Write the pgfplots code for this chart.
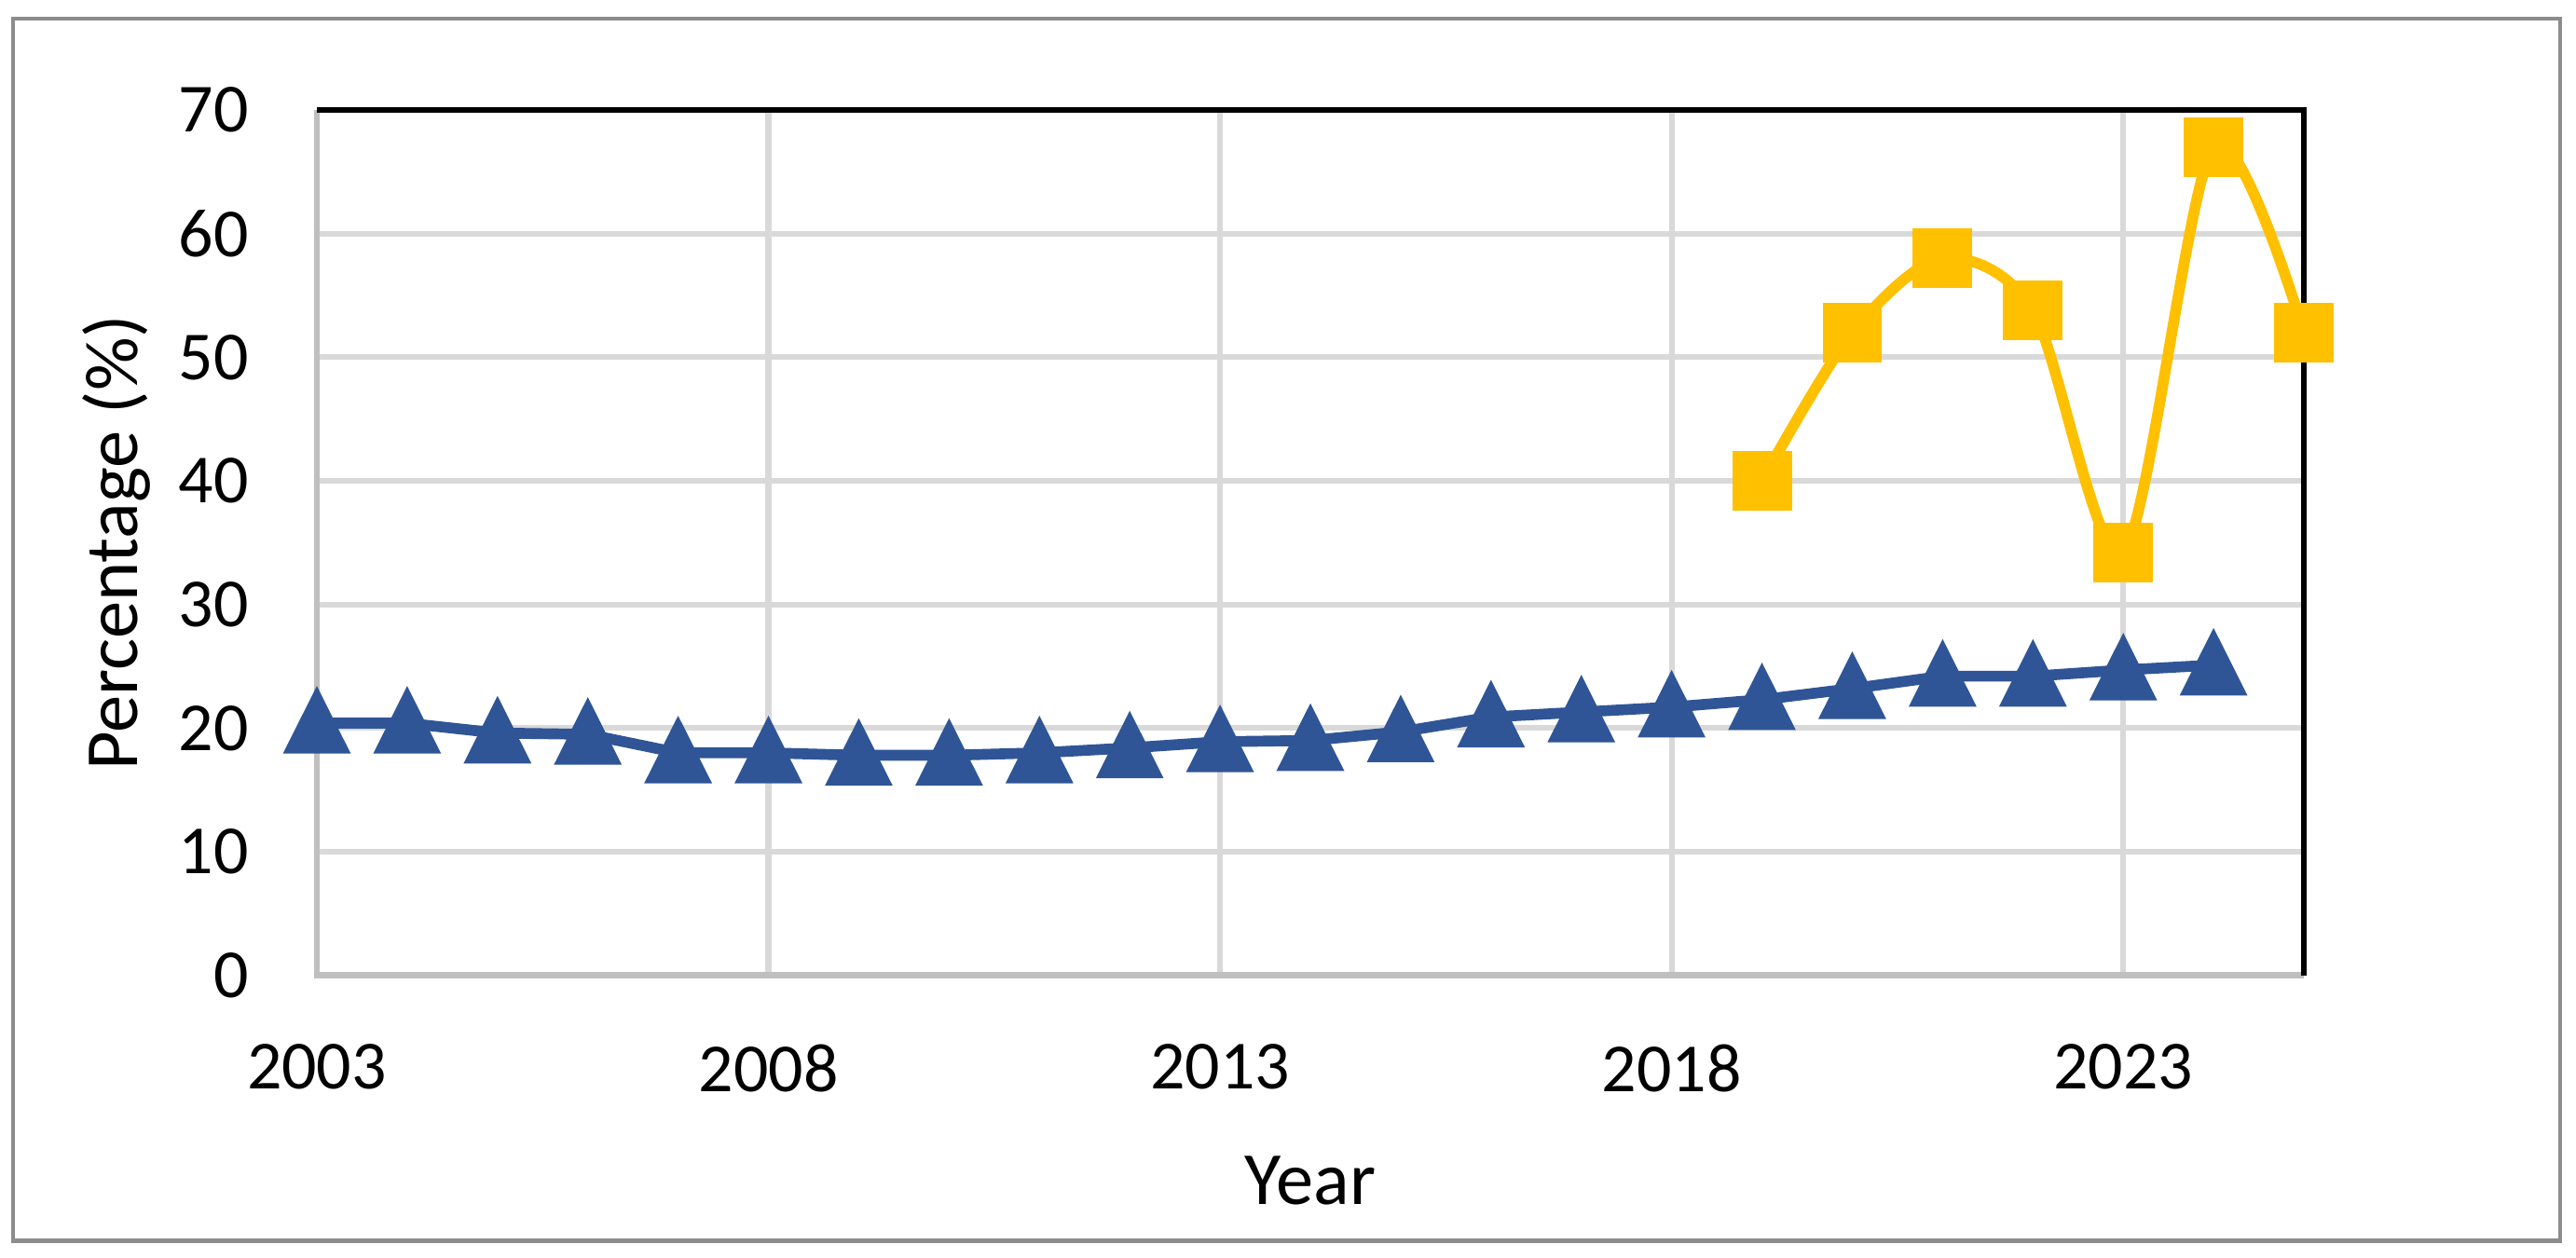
\documentclass[border=0pt]{standalone}
\usepackage{fontspec}
\setmainfont{Carlito}
\usepackage{pgfplots}
\pgfplotsset{compat=1.18}

\definecolor{serblue}{HTML}{2F5597}
\definecolor{seryellow}{HTML}{FFC000}
\definecolor{gridgray}{HTML}{D9D9D9}
\definecolor{axisgray}{HTML}{BFBFBF}
\definecolor{framegray}{HTML}{8C8C8C}

% blue series (2003-2024), yellow series (2019-2025)
\pgfplotstableread{
year val
2003 20.4
2004 20.4
2005 19.6
2006 19.5
2007 18.0
2008 18.0
2009 17.8
2010 17.8
2011 18.0
2012 18.4
2013 18.9
2014 19.0
2015 19.7
2016 20.9
2017 21.3
2018 21.7
2019 22.3
2020 23.2
2021 24.2
2022 24.2
2023 24.7
2024 25.1
}\bluedata

\pgfplotstableread{
year val
2019 40.0
2020 52.0
2021 58.0
2022 53.8
2023 34.2
2024 67.0
2025 52.0
}\yellowdata

\begin{document}
\begin{tikzpicture}
\begin{axis}[
    name=ax,
    scale only axis,
    width=383.8pt, height=167.2pt,
    xmin=2003, xmax=2025,
    ymin=0, ymax=70,
    xtick={2003,2008,2013,2018,2023},
    ytick={0,10,...,70},
    /pgf/number format/1000 sep={},
    /pgf/number format/assume math mode=true,
    axis line style={draw=none},
    major tick length=0pt,
    grid=major,
    major grid style={draw=gridgray, line width=1.1pt},
    clip=false,
    ticklabel style={font=\fontsize{13.3}{16}\selectfont, inner sep=0pt},
    yticklabel style={anchor=east, xshift=-13pt},
    xticklabel style={anchor=north, yshift=-13.1pt},
    xlabel={Year},
    ylabel={Percentage (\%)},
    every axis x label/.style={at={([yshift=-34.7pt]axis description cs:0.5,0)},
        anchor=north, inner sep=0pt, font=\fontsize{14.5}{17}\selectfont},
    every axis y label/.style={at={([xshift=-34.7pt]axis description cs:0,0.5)},
        rotate=90, anchor=base, inner sep=0pt, font=\fontsize{14.5}{17}\selectfont},
]
% axis frame: grey left/bottom, black top/right
\draw[axisgray, line width=1.2pt] (rel axis cs:0,1) -- (rel axis cs:0,0) -- (rel axis cs:1,0);
\draw[black, line width=1.2pt] (rel axis cs:0,1) -- (rel axis cs:1,1) -- (rel axis cs:1,0);

\addplot[serblue, line width=2.1pt, mark=triangle*, mark size=5.6pt,
    mark options={draw=none, fill=serblue, yshift=-1.6pt, yscale=1.15}]
    table[x=year, y=val] {\bluedata};

\addplot[seryellow, line width=2.1pt, smooth, tension=0.5, mark=square*, mark size=4.7pt,
    mark options={draw=none, fill=seryellow}]
    table[x=year, y=val] {\yellowdata};
\end{axis}

% chart area border and page size
\draw[framegray, line width=0.8pt]
    ([xshift=-58.68pt, yshift=-51.3pt]ax.south west) rectangle
    ([xshift=49.5pt, yshift=17.64pt]ax.north east);
\path ([xshift=-61.2pt, yshift=-54.54pt]ax.south west) rectangle
    ([xshift=52.56pt, yshift=21.24pt]ax.north east);
\end{tikzpicture}
\end{document}
